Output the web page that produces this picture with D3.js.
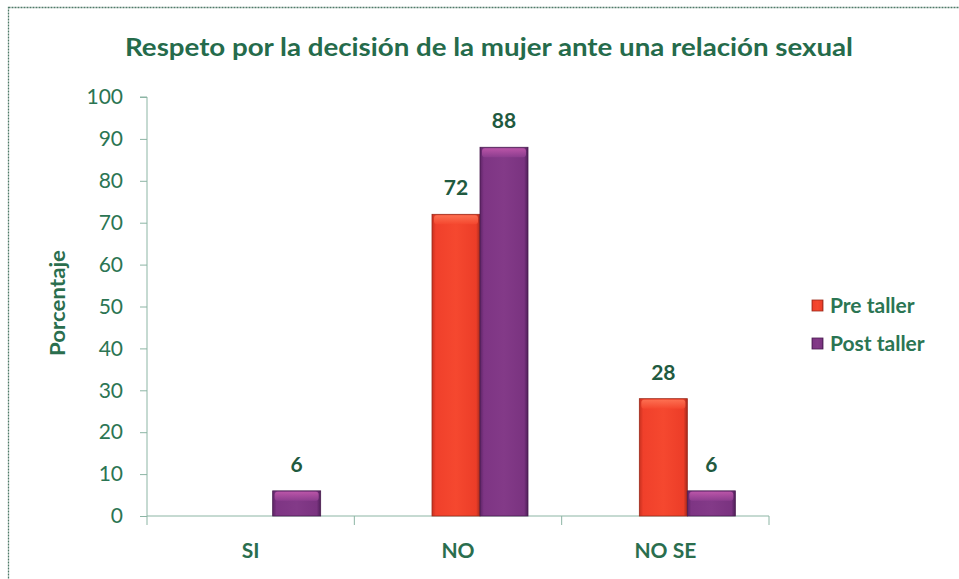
<!DOCTYPE html>
<html><head><meta charset="utf-8">
<script src="https://cdn.jsdelivr.net/npm/d3@7"></script>
<style>
html,body{margin:0;padding:0;background:#fff;}
svg{display:block;font-family:Lato,"Open Sans",sans-serif;}
</style></head>
<body><svg id="c" width="959" height="579"></svg>
<script>
const categories = ["SI", "NO", "NO SE"];
const seriesNames = ["Pre taller", "Post taller"];
const preTaller = [0, 72, 28];
const postTaller = [6, 88, 6];
const yTicks = [0, 10, 20, 30, 40, 50, 60, 70, 80, 90, 100];
const titleText = "Respeto por la decisión de la mujer ante una relación sexual";
const yLabel = "Porcentaje";

const svg = d3.select("#c");
const defs = svg.append("defs");

function grad(id, stops, vertical) {
  const g = defs.append("linearGradient").attr("id", id)
    .attr("x1", 0).attr("y1", 0).attr("x2", vertical ? 0 : 1).attr("y2", vertical ? 1 : 0);
  stops.forEach(s => g.append("stop").attr("offset", s[0]).attr("stop-color", s[1]));
}
grad("gRed", [[0, "#c8301f"], [0.08, "#f0402b"], [0.5, "#f5482f"], [0.92, "#ec3d28"], [1, "#a52a1c"]], false);
grad("gPur", [[0, "#5e2466"], [0.08, "#7e3584"], [0.5, "#833a88"], [0.92, "#7a3380"], [1, "#4e1f58"]], false);
grad("gRedTop", [[0, "#ff7a5a"], [1, "#f5482f"]], true);
grad("gPurTop", [[0, "#c85cb0"], [1, "#8e3e90"]], true);

const colors = { "Pre taller": "url(#gRed)", "Post taller": "url(#gPur)" };
const topColors = { "Pre taller": "url(#gRedTop)", "Post taller": "url(#gPurTop)" };
const edge = { "Pre taller": "#9c2a1a", "Post taller": "#4a1d50" };

// frame
svg.append("rect").attr("x", 8.5).attr("y", 7.5).attr("width", 1000).attr("height", 1000)
  .attr("fill", "none").attr("stroke", "#4f7a68").attr("stroke-width", 1.3)
  .attr("stroke-dasharray", "2,1");

const plotLeft = 147, plotRight = 769, plotTop = 97, plotBottom = 516;
const y = d3.scaleLinear().domain([0, 100]).range([plotBottom, plotTop]);
const x0 = d3.scaleBand().domain(categories).range([plotLeft, plotRight]).padding(0);
const x1 = d3.scaleBand().domain(seriesNames).range([0, 96]).padding(0);
const groupShift = 22;
const groupOffset = (x0.bandwidth() - x1.range()[1]) / 2 + groupShift;

const green = "#2b7553";
const axisCol = "#8cb5a4";

// title
svg.append("text").attr("x", 489).attr("y", 56).attr("text-anchor", "middle")
  .attr("font-size", 25).attr("font-weight", 700).attr("fill", "#256b4b")
  .attr("textLength", 728).attr("lengthAdjust", "spacingAndGlyphs")
  .text(titleText);

// y axis
const yAxis = d3.axisLeft(y).tickValues(yTicks).tickSize(7).tickPadding(17);
const gy = svg.append("g").attr("transform", `translate(${plotLeft},0)`).call(yAxis);
gy.select(".domain").attr("stroke", axisCol).attr("d", `M-7,${plotTop}H0V${plotBottom}`);
gy.selectAll(".tick line").attr("stroke", axisCol);
gy.selectAll(".tick text").attr("font-size", 21).attr("fill", green)
  .attr("font-family", "Lato, sans-serif").attr("font-weight", 400);

// x axis
const xAxis = d3.axisBottom(x0).tickSize(0).tickPadding(24);
const gx = svg.append("g").attr("transform", `translate(0,${plotBottom})`).call(xAxis);
gx.select(".domain").attr("stroke", axisCol).attr("d", `M${plotLeft},0H${plotRight}`);
gx.selectAll(".tick text").attr("font-size", 21).attr("font-weight", 700).attr("fill", "#2a6e4e")
  .attr("font-family", "Lato, sans-serif").attr("dy", "0.85em");
// category separators
const seps = categories.map(c => x0(c)).concat([plotRight]);
svg.append("g").selectAll("line").data(seps).join("line")
  .attr("x1", d => d).attr("x2", d => d).attr("y1", plotBottom).attr("y2", plotBottom + 9)
  .attr("stroke", axisCol);

// y label
svg.append("text").attr("transform", `translate(65,303) rotate(-90)`).attr("text-anchor", "middle")
  .attr("font-size", 21).attr("font-weight", 700).attr("fill", "#2a6e4e")
  .attr("textLength", 106).attr("lengthAdjust", "spacingAndGlyphs").text(yLabel);

// bars
const rows = categories.map((c, i) => ({ cat: c, vals: [
  { s: "Pre taller", v: preTaller[i] }, { s: "Post taller", v: postTaller[i] }] }));

const groups = svg.append("g").selectAll("g").data(rows).join("g")
  .attr("transform", d => `translate(${x0(d.cat) + groupOffset},0)`);

const bars = groups.selectAll("g.bar").data(d => d.vals.filter(v => v.v > 0)).join("g").attr("class", "bar");
bars.append("rect")
  .attr("x", d => x1(d.s)).attr("y", d => y(d.v))
  .attr("width", x1.bandwidth()).attr("height", d => y(0) - y(d.v))
  .attr("fill", d => colors[d.s]).attr("stroke", d => edge[d.s]).attr("stroke-width", 0.8);
bars.append("rect")
  .attr("x", d => x1(d.s) + 2).attr("y", d => y(d.v) + 1)
  .attr("width", x1.bandwidth() - 4).attr("height", d => Math.min(9, (y(0) - y(d.v)) / 2))
  .attr("rx", 3).attr("fill", d => topColors[d.s]).attr("opacity", 0.8);

// value labels
groups.selectAll("text.val").data(d => d.vals.filter(v => v.v > 0)).join("text").attr("class", "val")
  .attr("x", d => x1(d.s) + x1.bandwidth() / 2).attr("y", d => y(d.v) - 19)
  .attr("text-anchor", "middle").attr("font-size", 21).attr("font-weight", 700)
  .attr("fill", "#1f5a40").text(d => d.v);

// legend
const leg = svg.append("g").selectAll("g").data(seriesNames).join("g")
  .attr("transform", (d, i) => `translate(812,${300 + i * 38})`);
leg.append("rect").attr("width", 11).attr("height", 11)
  .attr("fill", d => colors[d]).attr("stroke", d => edge[d]).attr("stroke-width", 0.8);
leg.append("text").attr("x", 18).attr("y", 5.5).attr("dy", "0.36em")
  .attr("font-size", 21).attr("font-weight", 700).attr("fill", green).text(d => d);
</script></body></html>
